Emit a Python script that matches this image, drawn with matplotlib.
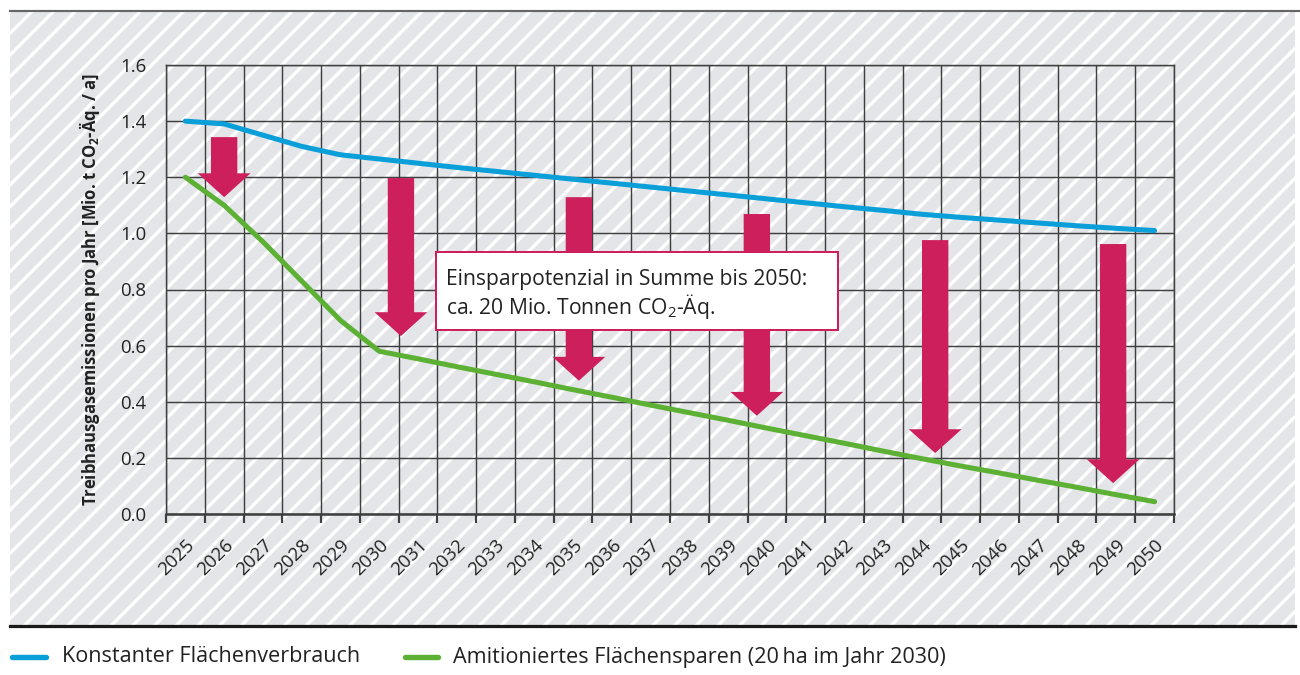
import numpy as np
import matplotlib
matplotlib.use("Agg")
import matplotlib.pyplot as plt
from matplotlib.patches import Rectangle, FancyArrow
from matplotlib.lines import Line2D

# -----------------------------
# Data
# -----------------------------
years = [str(y) for y in range(2025, 2051)]

konstant = [1.40, 1.39, 1.35, 1.31, 1.28, 1.265, 1.25, 1.235, 1.221, 1.207,
            1.193, 1.179, 1.165, 1.151, 1.137, 1.123, 1.109, 1.095, 1.082, 1.068,
            1.057, 1.047, 1.037, 1.027, 1.018, 1.01]

ambitioniert = [1.20, 1.10, 0.97, 0.83, 0.69, 0.58, 0.553, 0.525, 0.498, 0.471,
                0.443, 0.416, 0.388, 0.361, 0.334, 0.306, 0.279, 0.252, 0.224, 0.197,
                0.171, 0.146, 0.120, 0.095, 0.069, 0.044]

# savings arrows: x position (category index), top and tip value
arrow_x = [1.0, 5.56, 10.15, 14.74, 19.34, 23.93]
arrow_top = [1.343, 1.197, 1.129, 1.069, 0.976, 0.962]
arrow_tip = [1.129, 0.634, 0.475, 0.350, 0.217, 0.110]

labels = ["Konstanter Flächenverbrauch",
          "Amitioniertes Flächensparen (20\u2009ha im Jahr 2030)"]

BLUE = "#0a9fd9"
GREEN = "#5cb135"
MAGENTA = "#cc1f5c"
GRID = "#3f3f3f"
TXT = "#222222"

plt.rcParams["font.family"] = ["Open Sans", "DejaVu Sans"]
plt.rcParams["mathtext.fontset"] = "custom"
plt.rcParams["mathtext.rm"] = "Open Sans"
plt.rcParams["mathtext.bf"] = "Open Sans:bold"
plt.rcParams["hatch.linewidth"] = 1.8

# -----------------------------
# Figure + hatched background
# -----------------------------
fig = plt.figure(figsize=(10, 675 / 130), dpi=130)

bg = Rectangle((10 / 1300, 1 - 626 / 675), 1285 / 1300, 614 / 675,
               transform=fig.transFigure, facecolor="#e3e5e8",
               edgecolor="white", linewidth=0, hatch="//", zorder=0)
fig.add_artist(bg)
fig.add_artist(Line2D([10 / 1300, 1.0], [1 - 11 / 675] * 2, transform=fig.transFigure,
                      color="#666666", lw=1.2))
fig.add_artist(Line2D([10 / 1300, 1295 / 1300], [1 - 626 / 675] * 2,
                      transform=fig.transFigure, color="#1a1a1a", lw=1.8))

ax = fig.add_axes([166 / 1300, 1 - 514 / 675, 1008 / 1300, 449 / 675])
ax.set_facecolor("none")

x = np.arange(len(years))
ax.plot(x, konstant, color=BLUE, lw=2.8, solid_capstyle="round", zorder=5)
ax.plot(x, ambitioniert, color=GREEN, lw=2.8, solid_capstyle="round", zorder=5)

for xa, top, tip in zip(arrow_x, arrow_top, arrow_tip):
    ax.add_patch(FancyArrow(xa, top, 0, tip - top, width=0.68, head_width=1.36,
                            head_length=0.085, length_includes_head=True,
                            color=MAGENTA, lw=0, zorder=4))

# -----------------------------
# Text box
# -----------------------------
ax.add_patch(Rectangle((6.46, 0.656), 10.37, 0.278, facecolor="white",
                       edgecolor=MAGENTA, lw=1.1, zorder=6))
ax.text(6.72, 0.713, "Einsparpotenzial in Summe bis 2050:\nca. 20 Mio. Tonnen CO$_\\mathrm{2}$-Äq.",
        fontsize=11.7, color=TXT, va="baseline", ha="left", zorder=7,
        linespacing=1.1)

# -----------------------------
# Axes
# -----------------------------
ax.set_xlim(-0.5, len(years) - 0.5)
ax.set_ylim(0, 1.6)
ax.set_yticks(np.arange(0, 1.61, 0.2))
ax.set_yticklabels([f"{v:.1f}" for v in np.arange(0, 1.61, 0.2)])
ax.set_xticks(np.arange(len(years) + 1) - 0.5)
ax.set_xticklabels([])
ax.set_xticks(x, minor=True)
ax.set_xticklabels(years, minor=True, rotation=45, ha="right", va="top",
                   rotation_mode="anchor")
ax.tick_params(axis="x", which="major", length=5, width=1.2, color=GRID)
ax.tick_params(axis="x", which="minor", length=0, pad=12, labelsize=10.3, labelcolor=TXT)
ax.tick_params(axis="y", length=0, pad=11, labelsize=10.3, labelcolor=TXT)
ax.grid(True, which="major", color=GRID, lw=0.8)
for s in ax.spines.values():
    s.set_color(GRID)
    s.set_linewidth(0.8)
ax.spines["bottom"].set_linewidth(1.4)
ax.set_axisbelow(True)

ax.set_ylabel("Treibhausgasemissionen pro Jahr [Mio. t CO$_\\mathbf{2}$-Äq. / a]",
              fontsize=9.2, fontweight="bold", color=TXT, labelpad=10)

# -----------------------------
# Legend
# -----------------------------
ly = 1 - 657 / 675
fig.add_artist(Line2D([12 / 1300, 46 / 1300], [ly, ly], transform=fig.transFigure,
                      color=BLUE, lw=3, solid_capstyle="round"))
fig.text(62 / 1300, ly, labels[0], fontsize=12, va="center", color=TXT)
fig.add_artist(Line2D([405 / 1300, 438 / 1300], [ly, ly], transform=fig.transFigure,
                      color=GREEN, lw=3, solid_capstyle="round"))
fig.text(453 / 1300, ly, labels[1], fontsize=12, va="center", color=TXT)

fig.savefig("out.png", dpi=130)
